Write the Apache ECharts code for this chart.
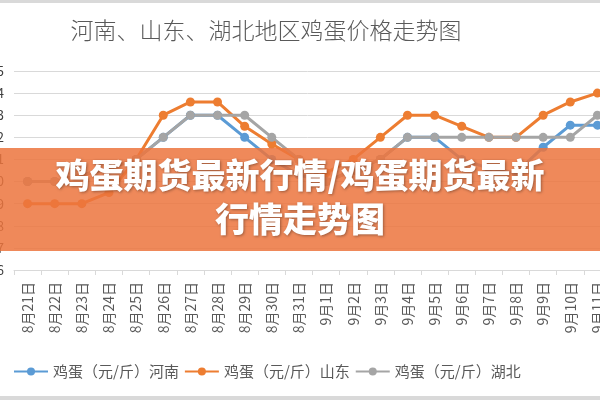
<!DOCTYPE html>
<html><head><meta charset="utf-8">
<script src="https://cdn.jsdelivr.net/npm/echarts@6/dist/echarts.min.js"></script>
<style>html,body{margin:0;padding:0;background:#fff}#c{width:600px;height:400px}</style>
</head><body><div id="c"></div>
<script>
const categories = ['8月21日','8月22日','8月23日','8月24日','8月25日','8月26日','8月27日','8月28日','8月29日','8月30日','8月31日','9月1日','9月2日','9月3日','9月4日','9月5日','9月6日','9月7日','9月8日','9月9日','9月10日','9月11日'];
const henan = [4.00,4.00,4.03,4.06,4.10,4.20,4.30,4.30,4.20,4.10,4.03,4.00,4.05,4.10,4.20,4.20,4.10,4.06,4.04,4.155,4.255,4.255];
const shandong = [3.90,3.90,3.90,3.95,4.10,4.30,4.36,4.36,4.25,4.17,4.10,4.04,4.10,4.20,4.30,4.30,4.25,4.20,4.20,4.30,4.36,4.40];
const hubei = [4.00,4.00,4.03,4.06,4.10,4.20,4.30,4.30,4.30,4.20,4.10,4.00,4.05,4.10,4.20,4.20,4.20,4.20,4.20,4.20,4.20,4.30];
const seriesNames = ['鸡蛋（元/斤）河南','鸡蛋（元/斤）山东','鸡蛋（元/斤）湖北'];
const titleText = '河南、山东、湖北地区鸡蛋价格走势图';
const bannerLines = ['鸡蛋期货最新行情/鸡蛋期货最新','行情走势图'];

const colors = ['#5B9BD5','#ED7D31','#A5A5A5'];
const font = '"Noto Sans CJK SC", sans-serif';
const chart = echarts.init(document.getElementById('c'));
function mk(name, data, color){
  return {name, type:'line', data, color, symbol:'circle', symbolSize:9,
    lineStyle:{width:3, color}, itemStyle:{color}};
}
chart.setOption({
  animation:false,
  title:{text:titleText, left:261, top:14, textAlign:'center',
    textStyle:{fontFamily:font, fontSize:23, fontWeight:300, color:'#595959'}},
  legend:{bottom:16, left:8, itemWidth:34, itemHeight:10, itemGap:5,
    textStyle:{fontFamily:font, fontSize:15, color:'#595959'},
    data:seriesNames},
  grid:{left:14, top:71, width:597, height:199, containLabel:false, outerBoundsMode:'none'},
  xAxis:{type:'category', data:categories, boundaryGap:true,
    axisLine:{lineStyle:{color:'#d9d9d9'}},
    axisTick:{show:true, length:5, lineStyle:{color:'#d9d9d9'}},
    axisLabel:{rotate:90, interval:0, margin:12, fontFamily:font, fontSize:14, color:'#595959'}},
  yAxis:{type:'value', min:3.6, max:4.5, interval:0.1,
    axisLine:{show:false}, axisTick:{show:false},
    splitLine:{lineStyle:{color:'#d9d9d9'}},
    axisLabel:{margin:10, fontFamily:font, fontSize:13, color:'#404040',
      formatter:v=>v.toFixed(1)}},
  series:[mk(seriesNames[0],henan,colors[0]), mk(seriesNames[1],shandong,colors[1]), mk(seriesNames[2],hubei,colors[2])],
  graphic:[
    {type:'rect', left:0, top:0, shape:{x:0,y:0,width:600,height:3}, style:{fill:'#d9d9d9'}, z:100},
    {type:'rect', left:0, top:396, shape:{x:0,y:0,width:600,height:4}, style:{fill:'#d9d9d9'}, z:100},
    {type:'rect', left:0, top:148, shape:{x:0,y:0,width:600,height:103}, style:{fill:'rgba(236,116,61,0.85)'}, z:100},
    {type:'text', left:'center', top:158, z:101, style:{text:bannerLines[0], fill:'#fff', font:'900 34px "Noto Sans CJK SC"', textShadowColor:'rgba(0,0,0,0.35)', textShadowBlur:3, textShadowOffsetX:1, textShadowOffsetY:1}},
    {type:'text', left:'center', top:202, z:101, style:{text:bannerLines[1], fill:'#fff', font:'900 34px "Noto Sans CJK SC"', textShadowColor:'rgba(0,0,0,0.35)', textShadowBlur:3, textShadowOffsetX:1, textShadowOffsetY:1}}
  ]
});
</script></body></html>
